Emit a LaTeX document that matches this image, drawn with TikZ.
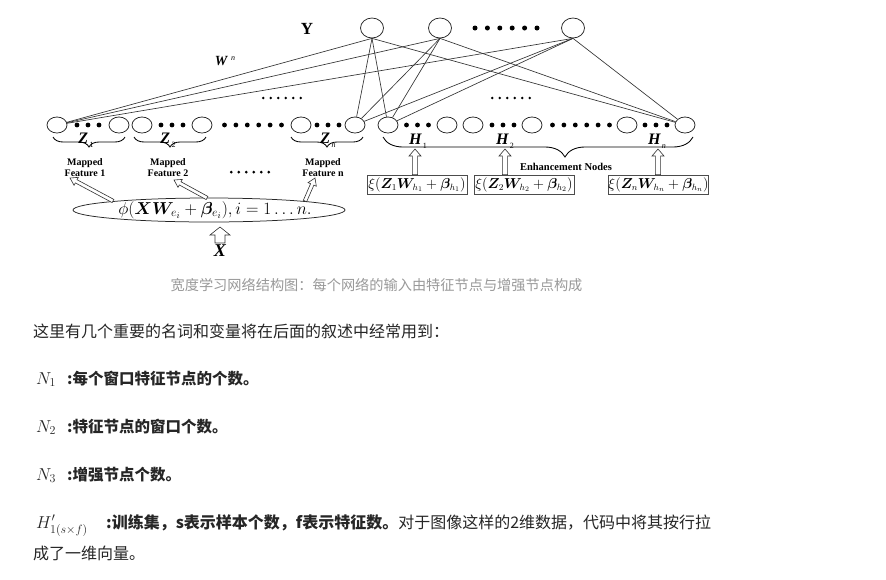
\documentclass[tikz,border=0pt]{standalone}
\usepackage{amsmath}
\usepackage{bm}
\usepackage{fontspec}
\newfontfamily\cjk{Noto Sans CJK SC}
\newfontfamily\tnr{Liberation Serif}
\usetikzlibrary{shapes.geometric,calc,decorations.pathreplacing}
\newcommand\dotrow[5]{\foreach \k in {1,...,#3}{\fill ({#1+(\k-0.5-#3/2)*#4},#2) circle (#5);}}
\newcommand\zlab[2]{{\tnr\bfseries\itshape\fontsize{16}{16}\selectfont #1}\hspace{1.5pt}\raisebox{-4pt}{\tnr\fontsize{8}{8}\selectfont #2}}
\tikzset{
  neuron/.style={draw=black!85, ellipse, minimum width=20pt, minimum height=16pt, inner sep=0pt, line width=0.75pt},
  yneuron/.style={draw=black!85, ellipse, minimum width=23pt, minimum height=20pt, inner sep=0pt, line width=0.75pt},
  wire/.style={line width=0.65pt, draw=black!80},
  zbrace/.style={decorate, decoration={brace, amplitude=10pt}, line width=0.85pt},
  ebrace/.style={decorate, decoration={brace, amplitude=20pt, aspect=0.413}, line width=0.85pt},
  mapped/.style={align=center, inner sep=0pt, font=\tnr\bfseries\fontsize{10}{11}\selectfont},
  fbox/.style={draw=black!70, line width=0.8pt, minimum width=100pt, minimum height=19pt, inner xsep=0pt, inner ysep=1pt, font=\fontsize{13.5}{14}\selectfont},
  body/.style={anchor=base west, inner sep=0pt, text=black!85},
  hollowarrow/.style n args={3}{draw=black!80, fill=white, line width=0.6pt, line join=miter,
    to path={($(\tikztostart)!#1!90:(\tikztotarget)$) -- ($(\tikztotarget)!#3!(\tikztostart)!#1!-90:(\tikztostart)$) -- ($(\tikztotarget)!#3!(\tikztostart)!#2!-90:(\tikztostart)$) -- (\tikztotarget) -- ($(\tikztotarget)!#3!(\tikztostart)!#2!90:(\tikztostart)$) -- ($(\tikztotarget)!#3!(\tikztostart)!#1!90:(\tikztostart)$) -- ($(\tikztostart)!#1!-90:(\tikztotarget)$) -- cycle}},
}
\begin{document}
\begin{tikzpicture}[x=1pt,y=-1pt]
\fill[white] (0,0) rectangle (886,579);
\useasboundingbox (0,0) rectangle (886,579);

% output layer
\node[yneuron] (y1) at (372,28) {};
\node[yneuron] (y2) at (440,28) {};
\node[yneuron] (y3) at (573,28) {};
\dotrow{506}{28}{6}{12.4}{2.5pt}
\node[inner sep=0pt] (ylab) at (307,29) {\tnr\bfseries\fontsize{17}{17}\selectfont Y};
\node[inner sep=0pt] (wlab) at (225,61) {\tnr\bfseries\itshape\fontsize{14}{14}\selectfont W\hspace{4pt}\raisebox{5pt}{\fontsize{8}{8}\selectfont\mdseries n}};

% hidden row
\foreach \nm/\xx in {c1/57,c2/119,c3/142,c4/202,c5/301,c6/355,c7/388,c8/447,c9/473,c10/532,c11/627,c12/685}
  \node[neuron] (\nm) at (\xx,125) {};
\dotrow{88}{125}{3}{11}{2.4pt}
\dotrow{172}{125}{3}{11}{2.4pt}
\dotrow{253}{125}{6}{11.4}{2.4pt}
\dotrow{328}{125}{3}{11}{2.4pt}
\dotrow{417.5}{125}{3}{11}{2.4pt}
\dotrow{503}{125}{3}{11}{2.4pt}
\dotrow{581}{125}{6}{11.4}{2.4pt}
\dotrow{656}{125}{3}{11}{2.4pt}
\dotrow{282}{98}{6}{7.5}{1.4pt}
\dotrow{511}{98}{6}{7.5}{1.4pt}

% connections
\foreach \yy in {y1,y2,y3}
  \foreach \cc in {c1,c6,c7,c12}
    \draw[wire] (\yy.south) -- (\cc);

% braces
\draw[zbrace] (125,137) -- (53,137);
\draw[zbrace] (206,137) -- (134,137);
\draw[zbrace] (363,137) -- (291,137);
\draw[ebrace] (693,137) -- (383,137);

\node[inner sep=0pt] (z1) at (86,140) {\zlab{Z}{1}};
\node[inner sep=0pt] (z2) at (168,140) {\zlab{Z}{2}};
\node[inner sep=0pt] (zn) at (328,140) {\zlab{Z}{\itshape n}};
\node[inner sep=0pt] (h1) at (418,141) {\zlab{H}{1}};
\node[inner sep=0pt] (h2) at (505,141) {\zlab{H}{2}};
\node[inner sep=0pt] (hn) at (657,141) {\zlab{H}{\itshape n}};

% mapped features
\node[mapped] (mf1) at (85,167.5) {Mapped\\Feature 1};
\node[mapped] (mf2) at (168,167.5) {Mapped\\Feature 2};
\node[mapped] (mfn) at (323,167.5) {Mapped\\Feature n};
\dotrow{250}{172}{6}{7.5}{1.5pt}
\node[inner sep=0pt, font=\tnr\bfseries\fontsize{10.5}{11}\selectfont] (enh) at (566,167) {Enhancement Nodes};

% mapping ellipse
\node[draw=black!85, ellipse, line width=0.75pt, minimum width=272pt, minimum height=24pt, inner sep=0pt] (ell) at (209,210) {};
\node[inner sep=0pt, font=\fontsize{17.5}{17.5}\selectfont] (form) at (215,210) {$\phi(\bm{XW}_{e_i}+\bm{\beta}_{e_i}), i=1\ldots n.$};
\node[inner sep=0pt] (xlab) at (220,251) {\tnr\bfseries\itshape\fontsize{18}{18}\selectfont X};

% enhancement boxes
\node[fbox] (b1) at (417,184.5) {$\xi(\bm{Z}_1\bm{W}_{h_1}+\bm{\beta}_{h_1})$};
\node[fbox] (b2) at (524,184.5) {$\xi(\bm{Z}_2\bm{W}_{h_2}+\bm{\beta}_{h_2})$};
\node[fbox] (b3) at (658.5,184.5) {$\xi(\bm{Z}_n\bm{W}_{h_n}+\bm{\beta}_{h_n})$};

% arrow end points
\coordinate (a1s) at (113,201);
\coordinate (a1t) at (70,178);
\coordinate (a2s) at (207,198);
\coordinate (a2t) at (174,180);
\coordinate (a3s) at (305,201);
\coordinate (a3t) at (315,178);
\coordinate (e1t) at (415,149);
\coordinate (e2t) at (505,149);
\coordinate (e3t) at (658,149);
\coordinate (xs) at (220,243);
\coordinate (xt) at (220,227);

\draw[hollowarrow={1.8pt}{4.5pt}{7pt}] (a1s) to (a1t);
\draw[hollowarrow={1.8pt}{4.5pt}{7pt}] (a2s) to (a2t);
\draw[hollowarrow={1.8pt}{4.5pt}{7pt}] (a3s) to (a3t);
\draw[hollowarrow={2.6pt}{6pt}{7pt}] (b1.north -| e1t) to (e1t);
\draw[hollowarrow={2.6pt}{6pt}{7pt}] (b2.north -| e2t) to (e2t);
\draw[hollowarrow={2.6pt}{6pt}{7pt}] (b3.north -| e3t) to (e3t);
\draw[hollowarrow={5pt}{10pt}{8pt}] (xs) to (xt);

% text below
\node[inner sep=0pt, text=black!40, font=\cjk\fontsize{14.2}{14}\selectfont] (cap) at (376.5,285) {宽度学习网络结构图：每个网络的输入由特征节点与增强节点构成};
\node[body, font=\cjk\fontsize{16}{16}\selectfont] (l1) at (33,337) {这里有几个重要的名词和变量将在后面的叙述中经常用到：};
\node[body, font=\fontsize{17.5}{17}\selectfont] (n1) at (36,384) {$N_1$};
\node[body, font=\cjk\bfseries\fontsize{15.5}{16}\selectfont] (n1t) at (67,384) {:每个窗口特征节点的个数。};
\node[body, font=\fontsize{17.5}{17}\selectfont] (n2) at (36,432) {$N_2$};
\node[body, font=\cjk\bfseries\fontsize{15.5}{16}\selectfont] (n2t) at (67,432) {:特征节点的窗口个数。};
\node[body, font=\fontsize{17.5}{17}\selectfont] (n3) at (36,480) {$N_3$};
\node[body, font=\cjk\bfseries\fontsize{15.5}{16}\selectfont] (n3t) at (67,480) {:增强节点个数。};
\node[body, font=\fontsize{18}{17}\selectfont] (hp) at (36,528) {$H'_{1(s\times f)}$};
\node[body, font=\cjk\fontsize{16}{16}\selectfont] (hpt) at (106,528) {\textbf{:训练集，s表示样本个数，f表示特征数。}对于图像这样的2维数据，代码中将其按行拉};
\node[body, font=\cjk\fontsize{16}{16}\selectfont] (l2) at (33,559) {成了一维向量。};
\end{tikzpicture}
\end{document}
